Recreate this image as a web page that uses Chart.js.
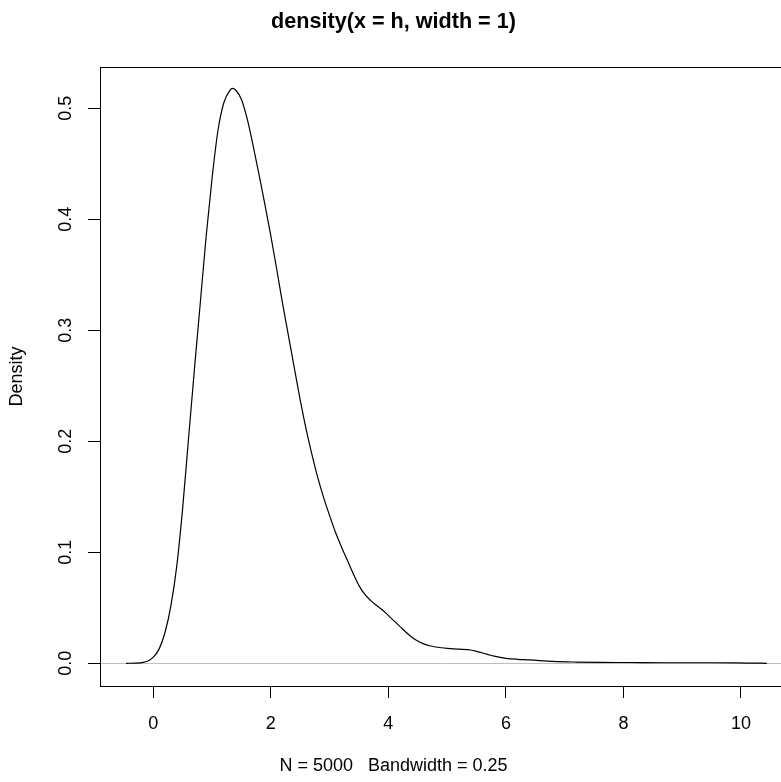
<!DOCTYPE html>
<html>
<head>
<meta charset="utf-8">
<script src="https://cdn.jsdelivr.net/npm/chart.js@4/dist/chart.umd.min.js"></script>
<style>
  html, body { margin: 0; padding: 0; background: #fff; overflow: hidden; }
  #wrap { width: 781px; height: 782px; overflow: hidden; }
</style>
</head>
<body>
<div id="wrap"><canvas id="chart" width="794" height="782"></canvas></div>
<script>
// density curve
const densityX = [-0.465, -0.30, -0.17, -0.10, 0.00, 0.10, 0.20, 0.30, 0.40, 0.50, 0.60, 0.70, 0.80, 0.90,
  1.00, 1.10, 1.20, 1.30, 1.35, 1.40, 1.50, 1.60, 1.70, 1.80, 1.90, 2.00, 2.10, 2.20, 2.30, 2.40, 2.50,
  2.60, 2.70, 2.80, 2.90, 3.00, 3.10, 3.20, 3.30, 3.40, 3.50, 3.60, 3.70, 3.80, 3.90, 4.00, 4.10, 4.20,
  4.30, 4.40, 4.50, 4.60, 4.70, 4.80, 4.90, 5.00, 5.20, 5.40, 5.50, 5.60, 5.70, 5.80, 6.00, 6.20, 6.40,
  6.80, 7.20, 7.60, 8.10, 8.70, 9.50, 10.10, 10.44];
const densityY = [0.0000, 0.0002, 0.0009, 0.0018, 0.0055, 0.013, 0.028, 0.052, 0.088, 0.140, 0.203, 0.265, 0.325, 0.385,
  0.437, 0.480, 0.505, 0.516, 0.518, 0.5165, 0.508, 0.490, 0.466, 0.440, 0.413, 0.385, 0.355, 0.324, 0.295, 0.266, 0.237,
  0.211, 0.188, 0.167, 0.149, 0.133, 0.118, 0.105, 0.093, 0.081, 0.070, 0.062, 0.0565, 0.052, 0.048, 0.043, 0.038, 0.033,
  0.028, 0.0235, 0.0200, 0.0175, 0.0158, 0.0147, 0.0140, 0.0135, 0.0128, 0.0120, 0.0108, 0.0093, 0.0078, 0.0064, 0.0045, 0.0036, 0.0031,
  0.0017, 0.0011, 0.0008, 0.0007, 0.0005, 0.0005, 0.0002, 0.0000];

const xTicks = [0, 2, 4, 6, 8, 10];
const yTicks = [0, 0.1, 0.2, 0.3, 0.4, 0.5];

const mainTitle = "density(x = h, width = 1)";
const subTitle = "N = 5000   Bandwidth = 0.25";
const yLabel = "Density";

const FONT = '"Liberation Sans", Arial, Helvetica, sans-serif';

const rFrame = {
  id: 'rFrame',
  afterDraw(chart) {
    const { ctx, chartArea: a } = chart;
    ctx.save();
    ctx.strokeStyle = '#000';
    ctx.lineWidth = 1;
    ctx.strokeRect(a.left + 0.5, a.top + 0.5, a.right - a.left, a.bottom - a.top);
    ctx.fillStyle = '#000';
    ctx.textAlign = 'center';
    ctx.textBaseline = 'middle';
    ctx.font = 'bold 21.6px ' + FONT;
    ctx.fillText(mainTitle, 393.5, 22);
    ctx.font = '18px ' + FONT;
    ctx.fillText(subTitle, 393.5, 766);
    ctx.restore();
  }
};

const ctx = document.getElementById("chart").getContext("2d");
new Chart(ctx, {
  type: 'line',
  data: {
    datasets: [{
      data: densityX.map((x, i) => ({ x: x, y: densityY[i] })),
      borderColor: '#000',
      borderWidth: 1.2,
      pointRadius: 0,
      fill: false,
      cubicInterpolationMode: 'monotone'
    }]
  },
  options: {
    responsive: false,
    animation: false,
    layout: { padding: { top: 67, left: 0, right: 1, bottom: 0 } },
    plugins: {
      legend: { display: false },
      tooltip: { enabled: false }
    },
    scales: {
      x: {
        type: 'linear',
        min: -0.907,
        max: 10.885,
        afterBuildTicks: axis => { axis.ticks = xTicks.map(v => ({ value: v })); },
        afterFit: axis => { axis.height = 96; },
        border: { display: false },
        grid: { drawOnChartArea: false, tickLength: 12, tickColor: '#000', lineWidth: 1 },
        ticks: {
          color: '#000',
          padding: 15,
          maxRotation: 0,
          font: { family: FONT, size: 18 },
          callback: v => String(v)
        }
      },
      y: {
        type: 'linear',
        min: -0.02045,
        max: 0.5372,
        afterBuildTicks: axis => { axis.ticks = yTicks.map(v => ({ value: v })); },
        afterFit: axis => { axis.width = 100; },
        border: { display: false },
        grid: {
          color: c => (c.tick && c.tick.value === 0 ? '#bebebe' : 'rgba(0,0,0,0)'),
          tickColor: '#000',
          tickLength: 12,
          lineWidth: 1
        },
        ticks: {
          color: '#000',
          padding: 9,
          minRotation: 90,
          maxRotation: 90,
          crossAlign: 'center',
          font: { family: FONT, size: 18 },
          callback: v => v.toFixed(1)
        },
        title: {
          display: true,
          text: yLabel,
          color: '#000',
          padding: { top: 6, bottom: 0 },
          font: { family: FONT, size: 18 }
        }
      }
    }
  },
  plugins: [rFrame]
});
</script>
</body>
</html>
